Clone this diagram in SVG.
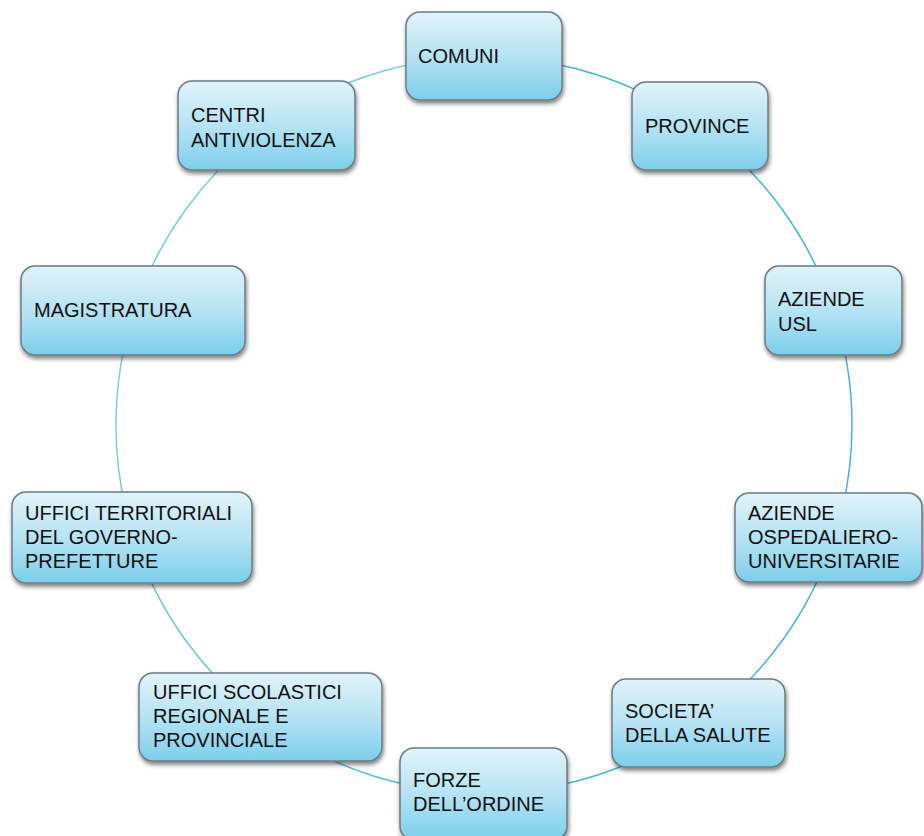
<svg xmlns="http://www.w3.org/2000/svg" width="924" height="836" viewBox="0 0 924 836">
<defs>
<linearGradient id="g" x1="0" y1="0" x2="0" y2="1">
<stop offset="0" stop-color="#e2f3fa"/>
<stop offset="0.5" stop-color="#b6e3f3"/>
<stop offset="1" stop-color="#7ccfeb"/>
</linearGradient>
<filter id="sh" x="-10%" y="-10%" width="125%" height="135%">
<feDropShadow dx="1" dy="3" stdDeviation="2.2" flood-color="#000" flood-opacity="0.5"/>
</filter>
</defs>
<style>
.box{fill:url(#g);stroke:#6b7c82;stroke-width:1.5;filter:url(#sh)}
.t{font-family:"Liberation Sans",Arial,sans-serif;font-size:20px;fill:#111}
.c{fill:none;stroke:#45b6cd;stroke-width:1.5}
</style>
<rect width="924" height="836" fill="#fff"/>
<g id="connectors">
<path class="c" d="M484 57 A368 368 0 0 1 700.3 127.3"/>
<path class="c" d="M700.3 127.3 A368 368 0 0 1 834 311.3"/>
<path class="c" d="M834 311.3 A368 368 0 0 1 834 538.7"/>
<path class="c" d="M834 538.7 A368 368 0 0 1 700.3 722.7"/>
<path class="c" d="M700.3 722.7 A368 368 0 0 1 484 793"/>
<path class="c" d="M484 793 A368 368 0 0 1 267.7 722.7" style="stroke:#5cbfd4"/>
<path class="c" d="M267.7 722.7 A368 368 0 0 1 134 538.7" style="stroke:#6cc5d8"/>
<path class="c" d="M134 538.7 A368 368 0 0 1 134 311.3" style="stroke:#7ccbdc"/>
<path class="c" d="M134 311.3 A368 368 0 0 1 267.7 127.3" style="stroke:#7ccbdc"/>
<path class="c" d="M267.7 127.3 A368 368 0 0 1 484 57" style="stroke:#7ccbdc"/>
</g>
<g id="comuni"><rect class="box" x="406" y="12" width="156" height="88" rx="14"/><text class="t" x="418" y="63">COMUNI</text></g>
<g id="province"><rect class="box" x="632" y="82" width="136" height="88" rx="14"/><text class="t" x="645" y="133">PROVINCE</text></g>
<g id="aziende-usl"><rect class="box" x="765" y="266" width="137" height="89" rx="14"/><text class="t" x="778" y="306">AZIENDE</text><text class="t" x="778" y="331">USL</text></g>
<g id="aziende-ospedaliero"><rect class="box" x="735" y="493" width="187" height="89" rx="14"/><text class="t" x="748" y="520">AZIENDE</text><text class="t" x="748" y="544">OSPEDALIERO-</text><text class="t" x="748" y="568">UNIVERSITARIE</text></g>
<g id="societa"><rect class="box" x="612" y="679" width="173" height="88" rx="14"/><text class="t" x="625" y="718">SOCIETA’</text><text class="t" x="625" y="742">DELLA SALUTE</text></g>
<g id="forze"><rect class="box" x="400" y="748" width="167" height="92" rx="14"/><text class="t" x="413" y="787">FORZE</text><text class="t" x="413" y="811">DELL’ORDINE</text></g>
<g id="uffici-scolastici"><rect class="box" x="139" y="673" width="243" height="88" rx="14"/><text class="t" x="153" y="699">UFFICI SCOLASTICI</text><text class="t" x="153" y="723">REGIONALE E</text><text class="t" x="153" y="747">PROVINCIALE</text></g>
<g id="uffici-territoriali"><rect class="box" x="12" y="492" width="240" height="91" rx="14"/><text class="t" x="25" y="520">UFFICI TERRITORIALI</text><text class="t" x="25" y="544">DEL GOVERNO-</text><text class="t" x="25" y="568">PREFETTURE</text></g>
<g id="magistratura"><rect class="box" x="21" y="266" width="224" height="89" rx="14"/><text class="t" x="34" y="317">MAGISTRATURA</text></g>
<g id="centri"><rect class="box" x="178" y="81" width="177" height="89" rx="14"/><text class="t" x="191" y="122">CENTRI</text><text class="t" x="191" y="147">ANTIVIOLENZA</text></g>
</svg>
